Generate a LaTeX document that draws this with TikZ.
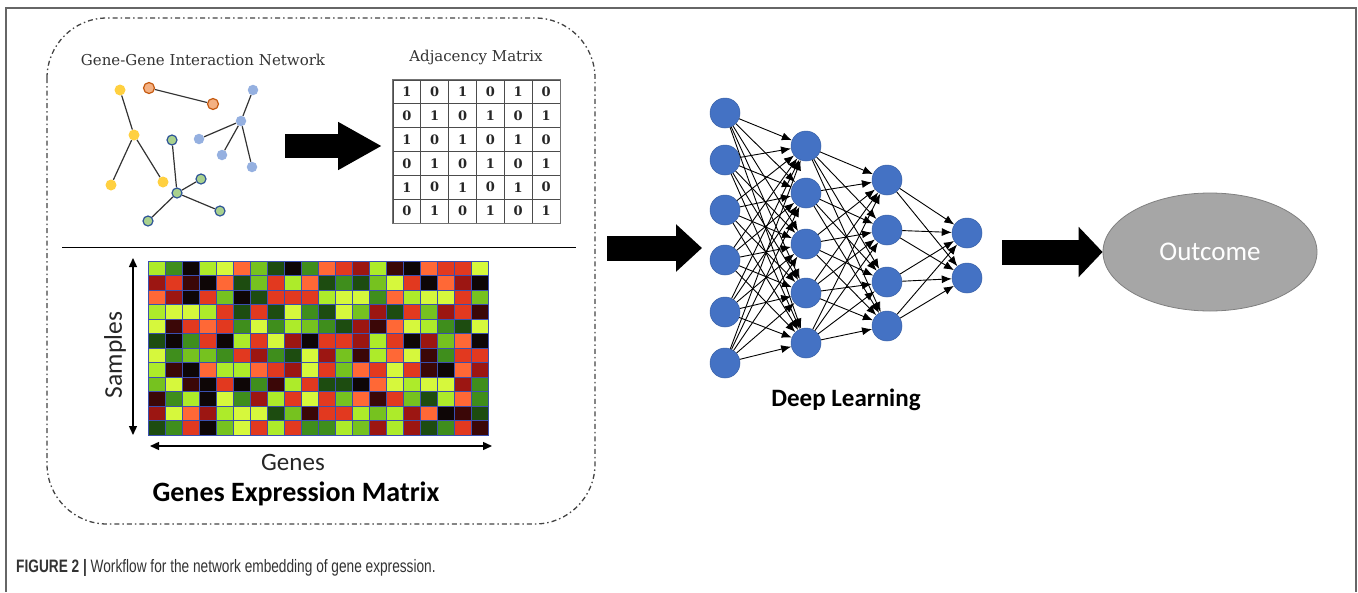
\documentclass[tikz,border=0pt]{standalone}
\usepackage{fontspec}
\setmainfont{DejaVu Serif}
\setsansfont{Carlito}
\newfontfamily\capfont[FakeStretch=0.76]{Liberation Sans}
\usetikzlibrary{arrows.meta,shapes.geometric}

\definecolor{framegray}{HTML}{666666}
\definecolor{boxgray}{HTML}{444444}
\definecolor{gyellow}{HTML}{FFD040}
\definecolor{gorangefill}{HTML}{F4B183}
\definecolor{gorange}{HTML}{C55A11}
\definecolor{gblue}{HTML}{95B0E0}
\definecolor{ggreenfill}{HTML}{A9D18E}
\definecolor{ggreen}{HTML}{2F5597}
\definecolor{nnblue}{HTML}{4472C4}
\definecolor{outgray}{HTML}{A6A6A6}
\definecolor{hmL}{HTML}{ADEB2A}
\definecolor{hmY}{HTML}{D6F83C}
\definecolor{hmM}{HTML}{76C21F}
\definecolor{hmG}{HTML}{3F8E1C}
\definecolor{hmD}{HTML}{1D4C10}
\definecolor{hmK}{HTML}{0E0606}
\definecolor{hmQ}{HTML}{3B0707}
\definecolor{hmX}{HTML}{9C1612}
\definecolor{hmR}{HTML}{E2391F}
\definecolor{hmO}{HTML}{FF6836}
\definecolor{hmgrid}{HTML}{3A4FB0}

\tikzset{
  gnode/.style={circle,inner sep=0pt,minimum size=11pt},
  yel/.style={gnode,fill=gyellow},
  ora/.style={gnode,fill=gorangefill,draw=gorange,line width=1.2pt},
  blu/.style={gnode,fill=gblue,minimum size=10.5pt},
  gre/.style={gnode,fill=ggreenfill,draw=ggreen,line width=1.2pt,minimum size=10pt},
  gedge/.style={draw=black!80,line width=1.2pt},
  cell/.style={draw=black!70,line width=0.8pt,minimum width=27.83pt,minimum height=23.83pt,
    inner sep=0pt,font=\fontsize{13}{15}\selectfont\bfseries,text=black!85},
  neuron/.style={circle,fill=nnblue,draw=nnblue!85!black,line width=0.5pt,minimum size=30pt,inner sep=0pt},
  nnedge/.style={draw,line width=0.9pt,-{Latex[length=10pt,width=8pt]}},
  bigarrow/.style={line width=24pt,-{Triangle[length=44pt,width=45pt]}},
  twoway/.style={line width=1.4pt,{Triangle[length=9pt,width=8pt]}-{Triangle[length=9pt,width=8pt]}}
}

\begin{document}
\begin{tikzpicture}[x=1pt,y=-1pt]
  %\draw[help lines,step=50] (0,0) grid (1358,592);
  \useasboundingbox (0,0) rectangle (1358,592);

  \draw[framegray,line width=1.5pt] (6,592) -- (6,8) -- (1356,8) -- (1356,592);
  \draw[boxgray,line width=1.3pt,rounded corners=60pt,dash pattern=on 5pt off 3pt on 1.5pt off 3pt]
    (47,18) rectangle (595,524);

  % network
  \draw (203,60) node[font=\fontsize{15}{18}\selectfont,text=black!80](gtitle) {Gene-Gene Interaction Network};

  \draw (120, 90) node[yel](y1) {};
  \draw (134,135) node[yel](y2) {};
  \draw (111,185) node[yel](y3) {};
  \draw (163,182) node[yel](y4) {};

  \draw (149, 88) node[ora](o1) {};
  \draw (213,104) node[ora](o2) {};

  \draw (253, 90) node[blu](b1) {};
  \draw (241,121) node[blu](b2) {};
  \draw (199,139) node[blu](b3) {};
  \draw (222,155) node[blu](b4) {};
  \draw (252,167) node[blu](b5) {};

  \draw (172,140) node[gre](g1) {};
  \draw (177,193) node[gre](g2) {};
  \draw (201,179) node[gre](g3) {};
  \draw (220,211) node[gre](g4) {};
  \draw (148,221) node[gre](g5) {};

  \path[gedge] (y1) -- (y2);
  \path[gedge] (y2) -- (y3);
  \path[gedge] (y2) -- (y4);
  \path[gedge] (o1) -- (o2);
  \path[gedge] (b1) -- (b2);
  \path[gedge] (b2) -- (b3);
  \path[gedge] (b2) -- (b4);
  \path[gedge] (b2) -- (b5);
  \path[gedge] (g1) -- (g2);
  \path[gedge] (g2) -- (g3);
  \path[gedge] (g2) -- (g4);
  \path[gedge] (g2) -- (g5);

  \coordinate (a1s) at (285,146);
  \coordinate (a1e) at (382,146);
  \draw[bigarrow] (a1s) -- (a1e);

  % adjacency matrix
  \draw (476,57) node[font=\fontsize{15}{18}\selectfont,text=black!80](atitle) {Adjacency Matrix};
  \foreach \r in {1,...,6}
    \foreach \c in {1,...,6} {
      \pgfmathtruncatemacro\bit{1-mod(\r+\c,2)}
      \draw ({393+27.83*(\c-0.5)},{80+23.83*(\r-0.5)}) node[cell](m-\r-\c) {\bit};
    }
  \draw[black!55,line width=1.6pt] (m-1-1.north west) rectangle (m-6-6.south east);

  \draw[line width=1pt] (62,247) -- (576,247);

  % expression matrix
  \foreach \row [count=\r from 0] in {
    {L,G,K,L,Y,O,M,D,K,G,O,R,X,L,Q,K,O,R,R,Y},
    {X,R,Q,K,O,D,M,R,L,O,D,G,D,M,Y,R,K,O,X,K},
    {O,X,K,R,M,K,D,R,R,R,L,Y,Y,G,O,L,Y,Y,R,M},
    {L,Y,Y,L,R,D,R,D,Y,G,D,Y,M,X,D,R,M,X,R,Q},
    {Y,Q,R,O,R,G,Y,G,L,M,G,D,X,Q,O,Y,L,G,D,Y},
    {D,K,G,R,K,L,R,Y,X,K,R,R,X,L,R,K,X,M,O,K},
    {Y,G,M,M,G,R,X,G,D,Y,X,M,Q,L,O,Y,Q,G,R,R},
    {L,Q,K,O,L,L,O,R,X,Y,R,M,O,R,Y,R,Q,K,O,X},
    {M,Y,Q,K,R,K,G,Q,L,R,D,D,K,O,Y,L,Y,Y,X,G},
    {Q,G,L,K,Y,G,X,L,R,Y,R,M,O,Q,R,M,D,L,O,G},
    {X,Y,O,X,L,Y,Y,D,M,Q,R,R,L,M,L,X,O,K,Q,D},
    {D,G,R,K,M,Y,R,L,R,G,G,L,M,X,L,X,D,G,R,Q}}
    \foreach \c [count=\i from 0] in \row
      \path[draw=hmgrid,line width=0.5pt,fill=hm\c] ({148+17*\i},{261+14.5*\r}) rectangle ++(17,14.5);

  \coordinate (smpTop) at (133,258);
  \coordinate (smpBot) at (133,435);
  \coordinate (genL) at (150,446);
  \coordinate (genR) at (492,446);
  \draw[twoway] (smpTop) -- (smpBot);
  \draw[twoway] (genL) -- (genR);
  \draw (115,355) node[rotate=90,font=\sffamily\fontsize{25.5}{29}\selectfont,text=black!85](smp) {Samples};
  \draw (293,462) node[font=\sffamily\fontsize{25}{29}\selectfont,text=black!85](gen) {Genes};
  \draw (296,494) node[font=\sffamily\bfseries\fontsize{28}{32}\selectfont](gem) {Genes Expression Matrix};

  \coordinate (a2s) at (607,248);
  \coordinate (a2e) at (702,248);
  \draw[bigarrow,line width=25pt,-{Triangle[length=26pt,width=46pt]}] (a2s) -- (a2e);

  % deep learning
  \draw (725,113) node[neuron](n1) {};
  \draw (725,160) node[neuron](n2) {};
  \draw (725,210) node[neuron](n3) {};
  \draw (725,260) node[neuron](n4) {};
  \draw (725,312) node[neuron](n5) {};
  \draw (725,363) node[neuron](n6) {};

  \draw (806,146) node[neuron](h1) {};
  \draw (806,193) node[neuron](h2) {};
  \draw (806,244) node[neuron](h3) {};
  \draw (806,293) node[neuron](h4) {};
  \draw (806,343) node[neuron](h5) {};

  \draw (887,180) node[neuron](k1) {};
  \draw (887,230) node[neuron](k2) {};
  \draw (887,282) node[neuron](k3) {};
  \draw (887,326) node[neuron](k4) {};

  \draw (967,233) node[neuron](z1) {};
  \draw (967,278) node[neuron](z2) {};

  \foreach \i in {1,...,6}
    \foreach \j in {1,...,5}
      \path[nnedge] (n\i) -- (h\j);
  \foreach \i in {1,...,5}
    \foreach \j in {1,...,4}
      \path[nnedge] (h\i) -- (k\j);
  \foreach \i in {1,...,4}
    \foreach \j in {1,2}
      \path[nnedge] (k\i) -- (z\j);

  \draw (846,400) node[font=\sffamily\bfseries\fontsize{25}{29}\selectfont](dl) {Deep Learning};

  % outcome
  \draw (1210,252) node[ellipse,fill=outgray,draw=black!50,line width=0.8pt,minimum width=214pt,
    minimum height=118pt,inner sep=0pt,text=white,font=\sffamily\fontsize{27}{31}\selectfont](out) {Outcome};
  \coordinate (a3s) at (1002,252);
  \draw[bigarrow,line width=25pt,-{Triangle[length=24pt,width=49pt]}] (a3s) -- (out.west);

  % caption
  \draw (16,568) node[anchor=west,inner sep=0pt,text=black!80,font=\capfont\fontsize{18}{21}\selectfont](cap)
    {\textbf{FIGURE 2 |} Workflow for the network embedding of gene expression.};
\end{tikzpicture}
\end{document}
